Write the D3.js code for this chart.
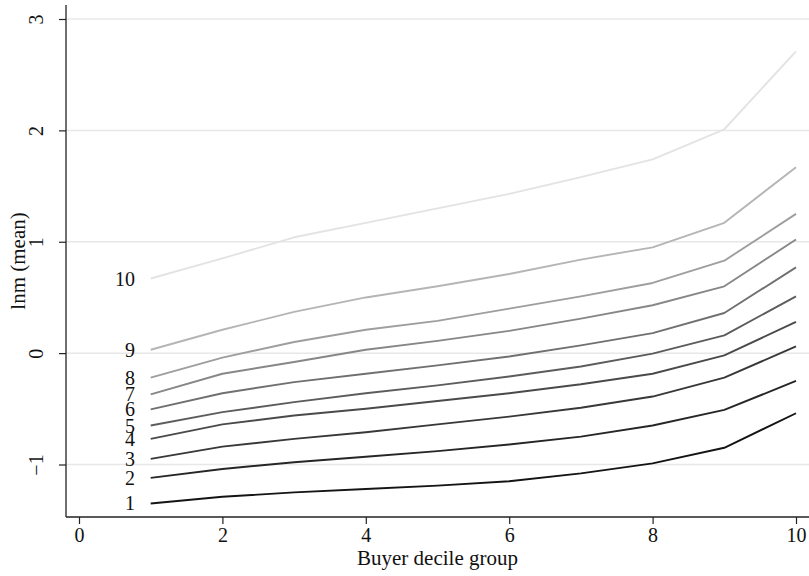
<!DOCTYPE html>
<html>
<head>
<meta charset="utf-8">
<script src="https://cdn.jsdelivr.net/npm/d3@7"></script>
<style>
  html, body { margin: 0; padding: 0; background: #fff; }
  svg { display: block; }
  text { font-family: "Liberation Serif", "Times New Roman", serif; fill: #111; }
</style>
</head>
<body>
<svg id="chart" width="809" height="576"></svg>
<script>
// ---- data ----
const deciles = [1, 2, 3, 4, 5, 6, 7, 8, 9, 10];
const groupLabels = ["1", "2", "3", "4", "5", "6", "7", "8", "9", "10"];
const s1  = [-1.35, -1.29, -1.25, -1.22, -1.19, -1.15, -1.08, -0.99, -0.85, -0.54];
const s2  = [-1.12, -1.04, -0.98, -0.93, -0.88, -0.82, -0.75, -0.65, -0.51, -0.25];
const s3  = [-0.95, -0.84, -0.77, -0.71, -0.64, -0.57, -0.49, -0.39, -0.22, 0.06];
const s4  = [-0.77, -0.64, -0.56, -0.50, -0.43, -0.36, -0.28, -0.185, -0.02, 0.28];
const s5  = [-0.65, -0.53, -0.44, -0.36, -0.29, -0.21, -0.12, -0.005, 0.16, 0.51];
const s6  = [-0.505, -0.36, -0.26, -0.185, -0.11, -0.03, 0.07, 0.18, 0.36, 0.77];
const s7  = [-0.37, -0.185, -0.08, 0.03, 0.11, 0.20, 0.31, 0.43, 0.60, 1.02];
const s8  = [-0.22, -0.04, 0.10, 0.21, 0.29, 0.40, 0.51, 0.63, 0.83, 1.25];
const s9  = [0.03, 0.21, 0.37, 0.50, 0.60, 0.71, 0.84, 0.95, 1.17, 1.67];
const s10 = [0.67, 0.85, 1.04, 1.17, 1.30, 1.43, 1.58, 1.74, 2.01, 2.71];
const seriesValues = [s1, s2, s3, s4, s5, s6, s7, s8, s9, s10];
const seriesColors = ["#141414", "#262626", "#383838", "#4a4a4a", "#5c5c5c",
                      "#707070", "#878787", "#9e9e9e", "#b5b5b5", "#e3e3e3"];
const xTicks = [0, 2, 4, 6, 8, 10];
const yTicks = [-1, 0, 1, 2, 3];
const xTitle = "Buyer decile group";
const yTitle = "lnm (mean)";

// ---- layout ----
const plotLeft = 66, plotRight = 809, plotTop = 5, plotBottom = 517;
const x = d3.scaleLinear().domain([0, 10]).range([79, 796]);
const y = d3.scaleLinear().domain([-1, 3]).range([464.5, 19]);

const svg = d3.select("#chart");

// grid lines
svg.append("g").selectAll("line").data(yTicks).join("line")
  .attr("x1", plotLeft).attr("x2", plotRight)
  .attr("y1", d => y(d)).attr("y2", d => y(d))
  .attr("stroke", "#e8e8e8").attr("stroke-width", 1.5);

// series lines
const line = d3.line().x((d, i) => x(deciles[i])).y(d => y(d));
svg.append("g").selectAll("path").data(seriesValues).join("path")
  .attr("d", d => line(d))
  .attr("fill", "none")
  .attr("stroke", (d, i) => seriesColors[i])
  .attr("stroke-width", 1.9)
  .attr("stroke-linejoin", "round");

// series labels
svg.append("g").selectAll("text").data(seriesValues).join("text")
  .attr("x", 135)
  .attr("y", d => y(d[0]))
  .attr("dy", "0.35em")
  .attr("text-anchor", "end")
  .attr("font-size", 20)
  .text((d, i) => groupLabels[i]);

// x axis
const xAxis = svg.append("g").attr("transform", `translate(0,${plotBottom})`)
  .call(d3.axisBottom(x).tickValues(xTicks).tickSize(7).tickPadding(4).tickFormat(d3.format("d")));
xAxis.select(".domain").remove();
xAxis.selectAll(".tick line").attr("stroke", "#222").attr("stroke-width", 1.2);
xAxis.selectAll(".tick text").attr("font-size", 20).attr("font-family", "Liberation Serif").attr("fill", "#111");
svg.append("line").attr("x1", plotLeft).attr("x2", plotRight)
  .attr("y1", plotBottom).attr("y2", plotBottom)
  .attr("stroke", "#222").attr("stroke-width", 1.3);

// y axis
const yAxis = svg.append("g").attr("transform", `translate(${plotLeft},0)`)
  .call(d3.axisLeft(y).tickValues(yTicks).tickSize(7).tickFormat(d => d < 0 ? "\u2212" + Math.abs(d) : String(d)));
yAxis.select(".domain").remove();
yAxis.selectAll(".tick line").attr("stroke", "#222").attr("stroke-width", 1.2);
yAxis.selectAll(".tick text")
  .attr("font-size", 20).attr("font-family", "Liberation Serif").attr("fill", "#111")
  .attr("x", null).attr("dy", null)
  .attr("text-anchor", "middle")
  .attr("transform", "translate(-23,0) rotate(-90)");
svg.append("line").attr("x1", plotLeft).attr("x2", plotLeft)
  .attr("y1", plotTop).attr("y2", plotBottom)
  .attr("stroke", "#222").attr("stroke-width", 1.3);

// titles
svg.append("text")
  .attr("x", (plotLeft + plotRight) / 2).attr("y", 565)
  .attr("text-anchor", "middle").attr("font-size", 21)
  .text(xTitle);
svg.append("text")
  .attr("transform", `translate(25,${(plotTop + plotBottom) / 2}) rotate(-90)`)
  .attr("text-anchor", "middle").attr("font-size", 21)
  .text(yTitle);
</script>
</body>
</html>
